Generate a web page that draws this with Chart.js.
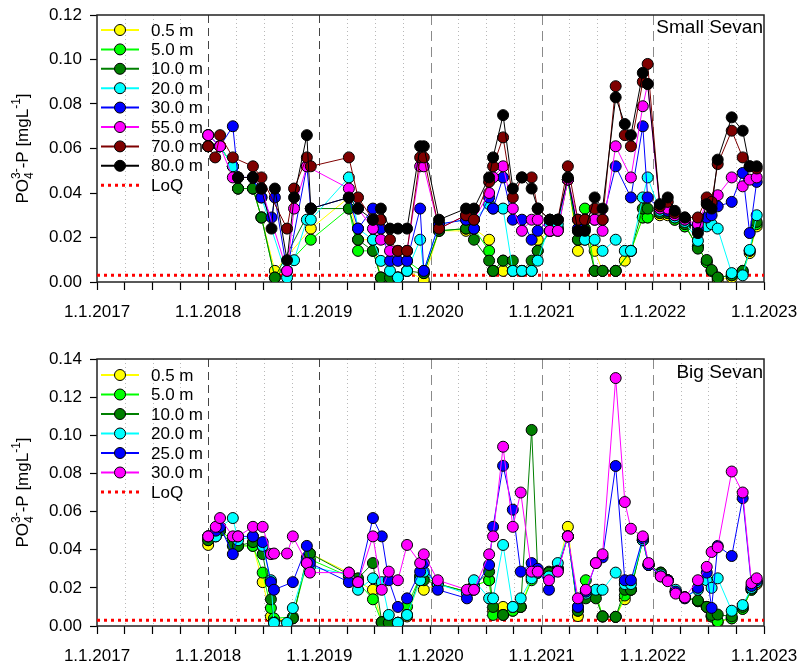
<!DOCTYPE html>
<html>
<head>
<meta charset="utf-8">
<script src="https://cdn.jsdelivr.net/npm/chart.js@4.4.1/dist/chart.umd.min.js"></script>
<style>
  body { margin: 0; background: #fff; }
  #wrap { position: relative; width: 798px; height: 668px; }
  canvas { position: absolute; left: 0; }
</style>
</head>
<body>
<div id="wrap">
  <canvas id="small" width="798" height="330" style="top:0"></canvas>
  <canvas id="big" width="798" height="338" style="top:330px"></canvas>
</div>
<script>
// ---- data: Small Sevan ----
var smallDates = ["2018-01-01","2018-01-24","2018-02-09","2018-03-23","2018-04-09","2018-05-28","2018-06-25","2018-07-28",
  "2018-08-08","2018-09-17","2018-10-10","2018-11-21","2018-12-04","2019-04-08","2019-05-08","2019-06-26","2019-07-22",
  "2019-08-21","2019-09-16","2019-10-16","2019-11-28","2019-12-10","2020-01-29","2020-04-27","2020-05-23","2020-07-12",
  "2020-07-25","2020-08-27","2020-09-28","2020-10-28","2020-11-29","2020-12-19","2021-01-28","2021-02-23","2021-03-28",
  "2021-04-30","2021-05-23","2021-06-24","2021-07-20","2021-09-01","2021-10-01","2021-10-21","2021-11-29","2021-12-15",
  "2022-01-24","2022-02-19","2022-03-14","2022-04-16","2022-05-29","2022-06-27","2022-07-13","2022-08-02","2022-09-17",
  "2022-10-23","2022-11-15","2022-12-08"];
var small05 = [0.061,null,0.061,0.052,0.042,0.042,0.029,null,0.005,null,null,null,0.024,0.038,0.019,0.019,0.002,
  0.002,0.002,0.005,null,0.001,0.023,0.023,0.024,0.019,0.005,0.005,0.005,0.005,0.005,0.019,0.023,0.023,0.046,
  0.014,0.019,0.014,0.005,0.005,0.0096,0.014,0.029,0.029,0.030,0.030,0.028,0.025,0.016,0.009,0.005,0.001,0.002,
  0.004,0.013,0.025];
var small5 = [0.061,null,0.061,0.052,0.042,0.042,0.029,null,0.002,null,null,null,0.019,0.033,0.014,0.014,0.002,
  0.002,0.002,0.0095,null,0.004,0.023,0.024,0.024,0.014,0.005,0.0096,0.005,0.005,0.005,0.014,0.023,0.024,0.046,
  0.019,0.033,0.005,0.005,0.005,null,0.014,0.029,0.029,0.031,0.031,0.028,0.025,0.016,0.009,0.005,0.002,0.003,
  0.005,0.014,0.026];
var small10 = [0.061,null,0.061,0.052,0.042,0.042,0.029,null,0.002,null,null,null,0.033,0.033,0.019,0.014,0.002,
  0.002,0.002,0.005,null,0.004,0.023,0.024,0.019,0.0096,0.005,0.0096,0.0096,0.005,0.0096,0.014,0.023,0.024,0.046,
  0.019,0.024,0.005,0.005,0.005,null,0.014,0.033,0.033,0.031,0.031,0.029,0.026,0.015,0.0099,0.0054,0.002,0.003,
  0.005,0.014,0.027];
var small20 = [0.066,null,0.061,0.052,0.047,0.047,0.038,null,null,0.002,0.0098,0.028,0.028,0.047,0.024,0.019,0.0095,
  0.005,0.002,0.005,0.019,0.005,0.026,0.028,0.028,0.035,0.033,0.033,0.005,0.005,0.005,0.0096,0.026,0.026,0.046,
  0.023,0.019,0.019,0.014,0.019,0.014,0.014,0.038,0.047,0.032,0.032,0.029,0.027,0.0185,0.025,0.026,0.024,0.004,
  0.003,0.0144,0.030];
var small30 = [0.066,null,0.061,0.070,0.047,0.047,0.038,0.029,0.038,0.005,null,0.052,0.033,0.038,0.024,0.033,0.024,
  0.0095,0.0095,0.0095,0.033,0.005,0.026,0.028,0.024,0.038,0.033,0.047,0.028,0.028,0.019,0.023,0.028,0.028,0.046,
  0.024,0.028,0.028,0.028,0.052,null,0.038,0.070,0.038,0.033,0.032,0.030,0.028,0.024,0.029,0.030,0.034,0.036,
  0.049,0.022,0.045];
var small55 = [0.066,null,0.061,0.047,0.047,0.047,0.042,null,null,0.005,0.033,0.052,null,0.042,0.033,0.024,0.019,
  0.014,0.014,0.014,0.052,0.052,0.024,0.030,0.028,0.040,0.047,0.052,0.033,0.023,0.028,0.028,0.023,0.023,0.046,
  0.028,0.028,0.028,0.023,0.061,null,0.047,0.079,0.089,0.033,0.033,0.030,0.028,0.026,0.036,0.035,0.039,0.047,
  0.043,0.046,0.047];
var small70 = [0.061,0.056,0.066,0.056,null,0.052,0.047,null,null,0.024,0.042,0.056,0.052,0.056,0.038,0.028,0.028,
  0.019,0.014,0.014,0.056,0.056,0.024,0.030,0.028,0.045,0.052,0.065,0.038,0.047,0.047,0.033,0.028,0.028,0.052,
  0.028,0.028,0.033,0.028,0.088,0.066,0.061,0.090,0.098,0.034,0.036,0.031,0.029,0.029,0.038,0.036,0.053,0.068,
  0.056,0.052,0.051];
var small80 = [null,null,null,null,0.047,0.047,0.042,0.024,0.042,0.0098,0.038,0.066,0.033,0.038,0.033,0.028,0.033,
  0.024,0.024,0.024,0.061,0.061,0.028,0.033,0.033,0.047,0.056,0.075,0.042,0.047,0.042,0.033,0.028,0.028,0.047,
  0.023,0.023,0.038,0.033,0.083,0.071,0.066,0.094,0.089,0.035,0.038,0.032,0.029,0.022,0.035,0.033,0.055,0.074,
  0.068,0.052,0.052];
var smallLabels = ["0.5 m", "5.0 m", "10.0 m", "20.0 m", "30.0 m", "55.0 m", "70.0 m", "80.0 m"];

// ---- data: Big Sevan ----
var bigDates = ["2018-01-01","2018-01-26","2018-02-09","2018-03-23","2018-04-09","2018-05-28","2018-06-29","2018-07-26",
  "2018-08-05","2018-09-17","2018-10-06","2018-11-21","2018-12-01","2019-04-08","2019-05-08","2019-06-26","2019-07-25",
  "2019-08-17","2019-09-16","2019-10-16","2019-11-28","2019-12-10","2020-01-25","2020-04-30","2020-05-23","2020-07-12",
  "2020-07-25","2020-08-27","2020-09-28","2020-10-24","2020-11-29","2020-12-19","2021-01-25","2021-02-23","2021-03-28",
  "2021-04-30","2021-05-26","2021-06-28","2021-07-20","2021-09-01","2021-10-01","2021-10-21","2021-11-29","2021-12-18",
  "2022-01-27","2022-02-19","2022-03-17","2022-04-16","2022-05-29","2022-06-27","2022-07-13","2022-08-02","2022-09-17",
  "2022-10-23","2022-11-21","2022-12-08"];
var big05 = [0.0425,0.047,0.050,0.045,0.042,0.042,0.023,0.005,0.003,null,0.004,0.035,0.038,0.028,0.023,0.019,0.002,
  0.0017,0.0017,0.005,0.024,0.019,0.022,0.018,0.021,0.024,0.008,0.010,0.008,0.010,0.026,0.028,0.026,0.030,0.052,
  0.0052,0.018,0.017,0.005,0.0048,0.014,0.019,0.045,0.032,0.027,0.024,0.018,0.015,0.013,0.010,0.005,0.002,0.004,
  0.009,0.019,0.022];
var big5 = [0.045,0.048,0.050,0.045,0.042,0.042,0.028,0.0094,0.004,null,0.0048,0.033,0.035,0.026,0.023,0.014,0.002,
  0.0017,0.0017,0.0101,0.026,0.026,0.022,0.018,0.021,0.024,0.0058,0.0058,0.008,0.010,0.024,0.028,0.0285,0.030,0.047,
  0.008,0.024,0.017,0.005,0.0048,0.016,0.019,0.045,0.032,0.028,0.024,0.018,0.015,0.013,0.010,0.005,0.0025,0.004,
  0.009,0.019,0.023];
var big10 = [0.045,0.048,0.050,0.042,0.042,0.044,0.0377,0.014,0.002,null,0.004,0.036,0.038,0.027,0.025,0.033,0.002,
  0.0017,0.0017,0.0058,0.026,0.024,0.022,0.018,0.021,0.0285,0.010,0.0058,0.010,0.010,0.1028,0.028,0.028,0.030,0.047,
  0.008,0.0145,0.0145,0.005,0.0048,0.019,0.019,0.045,0.032,0.028,0.024,0.018,0.015,0.0134,0.010,0.0058,0.006,0.005,
  0.010,0.0195,0.023];
var big20 = [0.047,0.047,0.052,0.0566,0.045,0.047,0.042,0.024,0.0016,0.0016,0.0094,0.033,0.031,0.027,0.019,0.025,0.023,
  0.0058,0.0017,0.0058,0.024,0.0285,0.022,0.017,0.024,0.0145,0.0145,0.0425,0.010,0.0145,0.025,0.028,0.026,0.033,0.047,
  0.010,0.017,0.019,0.019,0.028,0.022,0.022,0.045,0.032,0.027,0.024,0.019,0.015,0.019,0.024,0.020,0.025,0.008,
  0.011,0.020,0.023];
var big25 = [0.047,0.050,0.052,0.0377,0.047,0.047,0.044,0.023,0.019,null,0.023,0.042,0.033,0.023,0.023,0.0566,0.047,
  0.024,0.010,0.0145,0.0285,0.033,0.019,0.0145,0.019,0.032,0.052,0.084,0.061,0.0285,0.033,0.030,0.019,0.029,0.047,
  0.010,0.018,0.033,0.036,0.0839,0.024,0.024,0.046,0.032,0.026,0.024,0.018,0.0145,0.020,0.028,0.0095,0.042,0.0367,
  0.067,0.021,0.024];
var big30 = [0.047,0.052,0.0566,0.047,0.047,0.052,0.052,0.0377,0.038,0.038,0.047,0.033,0.028,0.028,0.023,0.047,0.019,
  0.0285,0.024,0.0425,0.033,0.0376,0.024,0.019,0.019,0.0376,0.047,0.094,0.052,0.070,0.0285,0.0285,0.024,0.0285,0.047,
  0.0145,0.019,0.033,0.0376,0.130,0.065,0.051,0.047,0.033,0.026,0.0235,0.017,0.015,0.024,0.031,0.0388,0.0413,0.081,
  0.070,0.0225,0.025];
var bigLabels = ["0.5 m", "5.0 m", "10.0 m", "20.0 m", "25.0 m", "30.0 m"];

var loq = 0.003;
var xTickYears = [2017, 2018, 2019, 2020, 2021, 2022, 2023];
var smallYTicks = [0, 0.02, 0.04, 0.06, 0.08, 0.10, 0.12];
var bigYTicks = [0, 0.02, 0.04, 0.06, 0.08, 0.10, 0.12, 0.14];

var smallColors = ["#ffff00", "#00ff00", "#007f00", "#00ffff", "#0000ff", "#ff00ff", "#7f0000", "#000000"];
var bigColors = ["#ffff00", "#00ff00", "#007f00", "#00ffff", "#0000ff", "#ff00ff"];

var FONT = '"Liberation Sans", Arial, sans-serif';

function toYear(s) {
    var p = s.split("-").map(Number);
    var start = Date.UTC(p[0], 0, 1), end = Date.UTC(p[0] + 1, 0, 1);
    return p[0] + (Date.UTC(p[0], p[1] - 1, p[2]) - start) / (end - start);
}

function buildSets(dates, series, labels, colors) {
    var n = series.length;
    var sets = series.map(function (vals, i) {
        return {
            label: labels[i],
            data: dates.map(function (d, k) { return {x: toYear(d), y: vals[k]}; }),
            borderColor: colors[i],
            backgroundColor: colors[i],
            pointBackgroundColor: colors[i],
            pointBorderColor: "#000",
            pointBorderWidth: 1,
            pointRadius: 5.5,
            borderWidth: 1,
            spanGaps: true,
            tension: 0,
            order: n - i
        };
    });
    sets.push({
        label: "LoQ",
        data: [{x: xTickYears[0], y: loq}, {x: xTickYears[xTickYears.length - 1], y: loq}],
        borderColor: "#ff0000",
        borderWidth: 3,
        borderDash: [3, 4],
        pointRadius: 0,
        order: n + 2
    });
    return sets;
}

function drawYTitle(ctx, cx, cy) {
    var big = "17px " + FONT, sm = "12px " + FONT;
    ctx.font = big;
    var w1 = ctx.measureText("PO").width;
    var w3 = ctx.measureText("-P [mgL").width;
    var w5 = ctx.measureText("]").width;
    ctx.font = sm;
    var w2 = Math.max(ctx.measureText("4").width, ctx.measureText("3-").width);
    var w4 = ctx.measureText("-1").width;
    var total = w1 + w2 + w3 + w4 + w5;
    ctx.save();
    ctx.translate(cx, cy);
    ctx.rotate(-Math.PI / 2);
    ctx.fillStyle = "#000";
    ctx.textBaseline = "alphabetic";
    ctx.textAlign = "left";
    var sx = -total / 2;
    ctx.font = big; ctx.fillText("PO", sx, 0);
    ctx.font = sm; ctx.fillText("4", sx + w1, 5); ctx.fillText("3-", sx + w1, -8);
    ctx.font = big; ctx.fillText("-P [mgL", sx + w1 + w2, 0);
    ctx.font = sm; ctx.fillText("-1", sx + w1 + w2 + w3, -8);
    ctx.font = big; ctx.fillText("]", sx + w1 + w2 + w3 + w4, 0);
    ctx.restore();
}

var panelDeco = {
    id: "panelDeco",
    beforeDatasetsDraw: function (chart) {
        var ctx = chart.ctx, a = chart.chartArea, x = chart.scales.x;
        ctx.save();
        for (var k = 1; k < 24; k++) {
            var px = Math.round(x.getPixelForValue(2017 + k * 0.25)) + 0.5;
            ctx.beginPath();
            if (k % 4 === 0) {
                // the first two year lines are darker in the original
                if (k <= 8) { ctx.strokeStyle = "#444"; ctx.setLineDash([8, 5]); }
                else { ctx.strokeStyle = "#8a8a8a"; ctx.setLineDash([10, 6]); }
            } else {
                ctx.strokeStyle = "#b8b8b8"; ctx.setLineDash([1, 3]);
            }
            ctx.lineWidth = 1;
            ctx.moveTo(px, a.top);
            ctx.lineTo(px, a.bottom);
            ctx.stroke();
        }
        ctx.setLineDash([]);
        ctx.strokeStyle = "#222";
        ctx.lineWidth = 1.5;
        ctx.strokeRect(a.left, a.top, a.right - a.left, a.bottom - a.top);
        ctx.restore();
    },
    afterDraw: function (chart, args, opts) {
        var ctx = chart.ctx, a = chart.chartArea;
        ctx.save();
        // legend inside plot
        chart.data.datasets.forEach(function (ds, i) {
            var y = opts.legendTop + i * opts.legendStep;
            ctx.beginPath();
            ctx.strokeStyle = ds.borderColor;
            if (ds.label === "LoQ") {
                ctx.lineWidth = 3; ctx.setLineDash([3, 4]);
            } else {
                ctx.lineWidth = 2; ctx.setLineDash([]);
            }
            ctx.moveTo(101, y); ctx.lineTo(139, y); ctx.stroke();
            ctx.setLineDash([]);
            if (ds.label !== "LoQ") {
                ctx.beginPath();
                ctx.arc(120, y, 5.5, 0, Math.PI * 2);
                ctx.fillStyle = ds.pointBackgroundColor;
                ctx.fill();
                ctx.lineWidth = 1; ctx.strokeStyle = "#000"; ctx.stroke();
            }
            ctx.fillStyle = "#000";
            ctx.font = "17px " + FONT;
            ctx.textAlign = "left";
            ctx.textBaseline = "middle";
            ctx.fillText(ds.label, 151, y + 1);
        });
        // lake name
        ctx.font = "19px " + FONT;
        ctx.textAlign = "right";
        ctx.textBaseline = "middle";
        ctx.fillText(opts.lake, a.right - 1, a.top + opts.lakeDy);
        ctx.restore();
        drawYTitle(ctx, 28, (a.top + a.bottom) / 2);
    }
};

function makeChart(id, sets, yMax, yTicks, xHeight, padTop, deco) {
    return new Chart(document.getElementById(id), {
        type: "line",
        data: {datasets: sets},
        plugins: [panelDeco],
        options: {
            responsive: false,
            animation: false,
            devicePixelRatio: 1,
            events: [],
            layout: {autoPadding: false, padding: {top: padTop, right: 34, left: 0, bottom: 0}},
            scales: {
                x: {
                    type: "linear",
                    min: xTickYears[0],
                    max: xTickYears[xTickYears.length - 1],
                    afterFit: function (s) {
                        s.height = xHeight;
                        s.paddingLeft = 0;
                        s.paddingRight = 0;
                    },
                    border: {display: false},
                    grid: {drawOnChartArea: false, drawTicks: true, tickLength: 8, tickColor: "#000", tickWidth: 1.2},
                    ticks: {
                        stepSize: 0.25,
                        autoSkip: false,
                        maxRotation: 0,
                        padding: 12,
                        color: "#000",
                        font: {family: FONT, size: 17},
                        callback: function (v) {
                            return xTickYears.indexOf(v) >= 0 ? "1.1." + v : "";
                        }
                    }
                },
                y: {
                    min: 0,
                    max: yMax,
                    afterFit: function (s) {
                        s.width = 97;
                        s.paddingTop = 0;
                        s.paddingBottom = 0;
                    },
                    afterBuildTicks: function (s) {
                        s.ticks = yTicks.map(function (v) { return {value: v}; });
                    },
                    border: {display: false},
                    grid: {drawOnChartArea: false, drawTicks: true, tickLength: 7, tickColor: "#000", tickWidth: 1.2},
                    ticks: {
                        padding: 8,
                        color: "#000",
                        font: {family: FONT, size: 17},
                        callback: function (v) { return v.toFixed(2); }
                    }
                }
            },
            plugins: {
                legend: {display: false},
                tooltip: {enabled: false},
                panelDeco: deco
            }
        }
    });
}

makeChart("small",
    buildSets(smallDates, [small05, small5, small10, small20, small30, small55, small70, small80], smallLabels, smallColors),
    0.12, smallYTicks, 48, 15,
    {legendTop: 30, legendStep: 19.4, lake: "Small Sevan", lakeDy: 13});

makeChart("big",
    buildSets(bigDates, [big05, big5, big10, big20, big25, big30], bigLabels, bigColors),
    0.14, bigYTicks, 42, 29,
    {legendTop: 45, legendStep: 19.5, lake: "Big Sevan", lakeDy: 14});
</script>
</body>
</html>
